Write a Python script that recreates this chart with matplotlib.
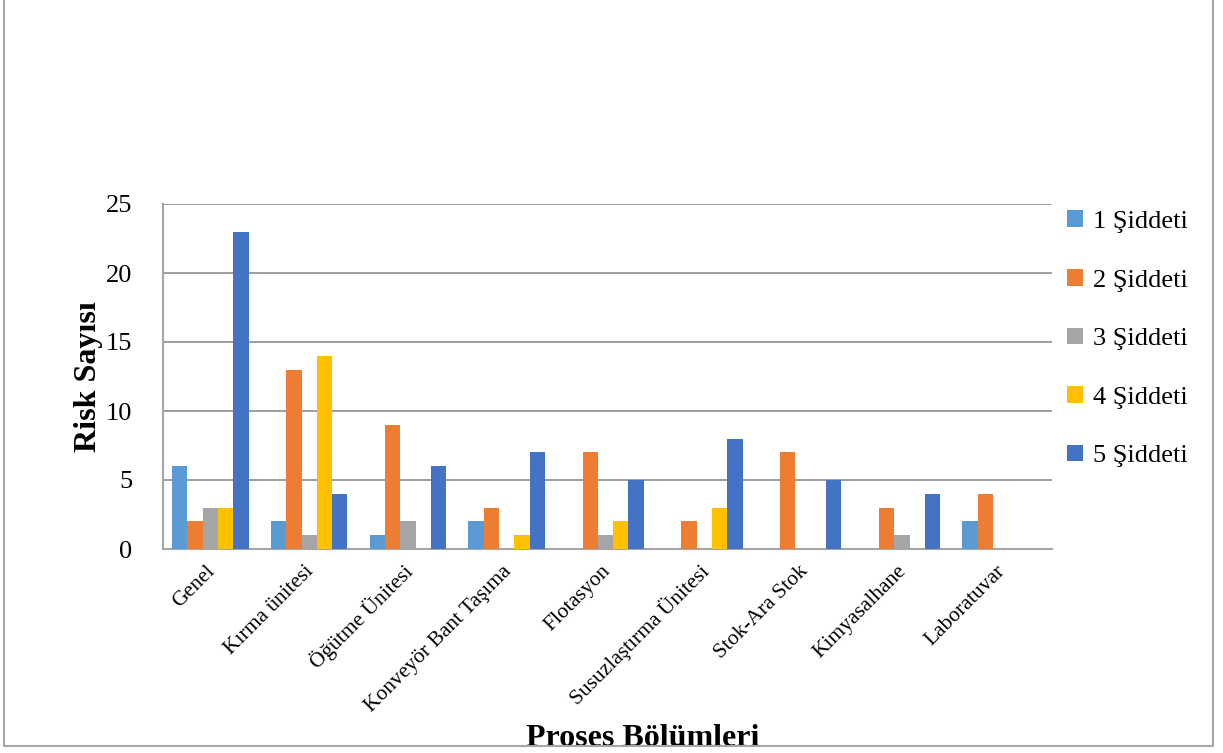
import numpy as np
import matplotlib.pyplot as plt
from matplotlib.patches import Rectangle

plt.rcParams['font.family'] = ['Liberation Serif', 'DejaVu Serif']

bolumler = ['Genel', 'Kırma ünitesi', 'Öğütme Ünitesi', 'Konveyör Bant Taşıma',
            'Flotasyon', 'Susuzlaştırma Ünitesi', 'Stok-Ara Stok', 'Kimyasalhane',
            'Laboratuvar']
siddet1 = [6, 2, 1, 2, 0, 0, 0, 0, 2]
siddet2 = [2, 13, 9, 3, 7, 2, 7, 3, 4]
siddet3 = [3, 1, 2, 0, 1, 0, 0, 1, 0]
siddet4 = [3, 14, 0, 1, 2, 3, 0, 0, 0]
siddet5 = [23, 4, 6, 7, 5, 8, 5, 4, 0]
seriler = ['1 Şiddeti', '2 Şiddeti', '3 Şiddeti', '4 Şiddeti', '5 Şiddeti']
renkler = ['#5B9BD5', '#ED7D31', '#A5A5A5', '#FFC000', '#4472C4']

fig = plt.figure(figsize=(12.23, 7.53), dpi=100)
ax = fig.add_axes([163/1223, 1-549/753, (1052-163)/1223, (549-204)/753])

x = np.arange(len(bolumler))
w = 0.155
for i, (vals, lab, c) in enumerate(zip([siddet1, siddet2, siddet3, siddet4, siddet5], seriler, renkler)):
    ax.bar(x + (i-2)*w - 0.02, vals, w, color=c, label=lab, zorder=3)

ax.set_xlim(-0.5, 8.5)
ax.set_ylim(0, 25)
ax.set_yticks([0, 5, 10, 15, 20, 25])
ax.yaxis.grid(True, color='#8c8c8c', lw=1.2, zorder=0)
ax.tick_params(axis='y', length=0, pad=22, labelsize=19)
ax.tick_params(axis='x', length=0, pad=14)
ax.set_xticks(x)
ax.set_xticklabels(bolumler, rotation=45, ha='right', va='center',
                   rotation_mode='anchor', fontsize=15.5)
for s in ['top', 'right']:
    ax.spines[s].set_visible(False)
for s in ['left', 'bottom']:
    ax.spines[s].set_color('#a6a6a6')
    ax.spines[s].set_linewidth(1.5)

ax.set_ylabel('Risk Sayısı', fontsize=23, fontweight='bold', labelpad=2)
fig.text(643/1223, 1-746/753, 'Proses Bölümleri', fontsize=23, fontweight='bold',
         ha='center', va='baseline')

ax.legend(loc='upper left', bbox_to_anchor=(1.005, 1.012), frameon=False,
          fontsize=19, handlelength=0.6, handleheight=0.6, handletextpad=0.4,
          labelspacing=1.36, borderaxespad=0)

# white cover below the frame, then the frame itself
fig.patches.append(Rectangle((0, 0), 1, 1-746/753, transform=fig.transFigure,
                             facecolor='white', edgecolor='none', zorder=5))
fig.lines.append(plt.Line2D([4/1223, 4/1223, 1213/1223, 1213/1223],
                            [1.01, 1-746/753, 1-746/753, 1.01],
                            transform=fig.transFigure, color='#a6a6a6', lw=1.5, zorder=6))

fig.savefig('out.png', dpi=100)
